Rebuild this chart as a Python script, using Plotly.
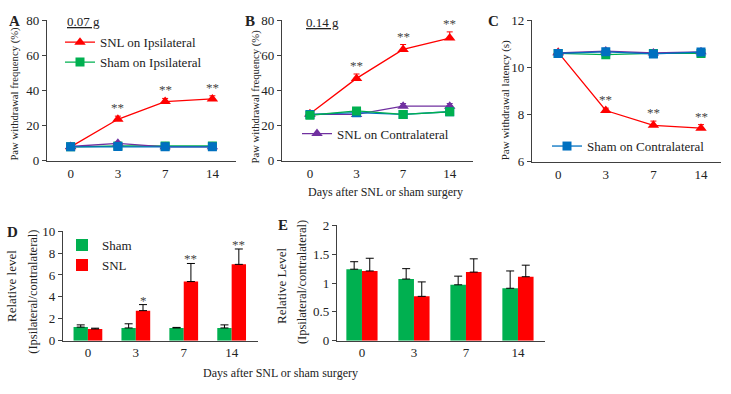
import plotly.graph_objects as go

W, H = 731, 394
FONT = "Liberation Serif"
RED, GREEN, PURPLE, BLUE = "#FF0000", "#00B050", "#7030A0", "#0070C0"
AX = "#404040"

days = ["0", "3", "7", "14"]
xpos = [0, 1, 2, 3]

# Panel A (0.07 g) - withdrawal frequency (%)
A_snl_ipsi = [8, 23.7, 33.8, 35.3]
A_snl_ipsi_err = [1.0, 1.8, 1.8, 1.8]
A_sham_ipsi = [8, 8.5, 8.5, 8.5]
A_sham_ipsi_err = [0.5, 0.5, 1.0, 0.5]
A_snl_contra = [8.2, 10, 8, 8]
A_snl_contra_err = [0.5, 0.8, 0.5, 0.5]
A_sham_contra = [8, 8.2, 8, 8]
A_sham_contra_err = [0.5, 0.5, 0.5, 0.5]
A_stars = ["", "**", "**", "**"]

# Panel B (0.14 g)
B_snl_ipsi = [26.8, 47, 63.5, 70]
B_snl_ipsi_err = [1.0, 2.5, 2.8, 3.5]
B_sham_ipsi = [26, 28.5, 26.5, 28]
B_sham_ipsi_err = [1, 1, 1, 1]
B_snl_contra = [26.5, 26.5, 31.2, 31.2]
B_snl_contra_err = [1, 1, 1.5, 1.5]
B_sham_contra = [26.5, 27.5, 26.5, 28]
B_sham_contra_err = [0.8, 0.8, 0.8, 0.8]
B_stars = ["", "**", "**", "**"]

# Panel C - withdrawal latency (s)
C_snl_ipsi = [10.65, 8.18, 7.55, 7.43]
C_snl_ipsi_err = [0.08, 0.1, 0.18, 0.15]
C_sham_ipsi = [10.6, 10.55, 10.6, 10.6]
C_sham_ipsi_err = [0.05, 0.05, 0.05, 0.1]
C_snl_contra = [10.62, 10.7, 10.62, 10.67]
C_snl_contra_err = [0.05, 0.12, 0.05, 0.05]
C_sham_contra = [10.6, 10.67, 10.58, 10.66]
C_sham_contra_err = [0.05, 0.08, 0.05, 0.05]
C_stars = ["", "**", "**", "**"]

# Panel D - relative level
D_sham = [1.25, 1.17, 1.17, 1.17]
D_sham_err = [0.2, 0.38, 0.05, 0.28]
D_snl = [1.08, 2.75, 5.4, 6.97]
D_snl_err = [0.07, 0.55, 1.65, 1.4]
D_stars = ["", "*", "**", "**"]

# Panel E - relative level
E_sham = [1.24, 1.07, 0.97, 0.91]
E_sham_err = [0.13, 0.18, 0.15, 0.3]
E_snl = [1.21, 0.77, 1.19, 1.11]
E_snl_err = [0.22, 0.25, 0.23, 0.2]


def px(x):
    return x / W


def py(y):
    return 1 - y / H


fig = go.Figure()


def err(arr, color, w=3):
    return dict(type="data", symmetric=False, array=arr, arrayminus=[0] * len(arr),
                color=color, thickness=1, width=w)


def line_trace(y, e, color, symbol, name, ax, legend, show):
    return go.Scatter(
        x=xpos, y=y, name=name, mode="lines+markers",
        line=dict(color=color, width=1.3),
        marker=dict(color=color, symbol=symbol, size=9 if symbol == "square" else 10),
        error_y=err(e, color),
        xaxis="x" + ax, yaxis="y" + ax, legend=legend, showlegend=show,
    )


# A
for y, e, c, s, n, sh in [
    (A_snl_ipsi, A_snl_ipsi_err, RED, "triangle-up", "SNL on Ipsilateral", True),
    (A_sham_ipsi, A_sham_ipsi_err, GREEN, "square", "Sham on Ipsilateral", True),
    (A_snl_contra, A_snl_contra_err, PURPLE, "triangle-up", "SNL on Contralateral", False),
    (A_sham_contra, A_sham_contra_err, BLUE, "square", "Sham on Contralateral", False),
]:
    fig.add_trace(line_trace(y, e, c, s, n, "", "legend", sh))

# B
for y, e, c, s, n, sh in [
    (B_snl_ipsi, B_snl_ipsi_err, RED, "triangle-up", "SNL on Ipsilateral", False),
    (B_snl_contra, B_snl_contra_err, PURPLE, "triangle-up", "SNL on Contralateral", True),
    (B_sham_contra, B_sham_contra_err, BLUE, "square", "Sham on Contralateral", False),
    (B_sham_ipsi, B_sham_ipsi_err, GREEN, "square", "Sham on Ipsilateral", False),
]:
    fig.add_trace(line_trace(y, e, c, s, n, "2", "legend2", sh))

# C
for y, e, c, s, n, sh in [
    (C_snl_ipsi, C_snl_ipsi_err, RED, "triangle-up", "SNL on Ipsilateral", False),
    (C_sham_ipsi, C_sham_ipsi_err, GREEN, "square", "Sham on Ipsilateral", False),
    (C_snl_contra, C_snl_contra_err, PURPLE, "triangle-up", "SNL on Contralateral", False),
    (C_sham_contra, C_sham_contra_err, BLUE, "square", "Sham on Contralateral", True),
]:
    fig.add_trace(line_trace(y, e, c, s, n, "3", "legend3", sh))

# D
fig.add_trace(go.Bar(x=xpos, y=D_sham, name="Sham", marker=dict(color=GREEN, line=dict(width=0)),
                     error_y=err(D_sham_err, "black", 4), xaxis="x4", yaxis="y4",
                     legend="legend4", offsetgroup="sham"))
fig.add_trace(go.Bar(x=xpos, y=D_snl, name="SNL", marker=dict(color=RED, line=dict(width=0)),
                     error_y=err(D_snl_err, "black", 4), xaxis="x4", yaxis="y4",
                     legend="legend4", offsetgroup="snl"))
# E
fig.add_trace(go.Bar(x=xpos, y=E_sham, name="Sham", marker=dict(color=GREEN, line=dict(width=0)),
                     error_y=err(E_sham_err, "black", 4), xaxis="x5", yaxis="y5",
                     showlegend=False, offsetgroup="sham"))
fig.add_trace(go.Bar(x=xpos, y=E_snl, name="SNL", marker=dict(color=RED, line=dict(width=0)),
                     error_y=err(E_snl_err, "black", 4), xaxis="x5", yaxis="y5",
                     showlegend=False, offsetgroup="snl"))

tickfont = dict(family=FONT, size=13, color="#222")


def xaxis(domain, rng, anchor):
    return dict(domain=domain, range=rng, anchor=anchor, tickmode="array", tickvals=xpos,
                ticktext=days, showline=True, linecolor=AX, linewidth=1.2, ticks="",
                showgrid=False, zeroline=False, tickfont=tickfont, fixedrange=True)


def yaxis(domain, rng, dtick, anchor):
    return dict(domain=domain, range=rng, anchor=anchor, dtick=dtick, showline=True,
                linecolor=AX, linewidth=1.2, ticks="outside", ticklen=4, tickcolor=AX,
                showgrid=False, zeroline=False, tickfont=tickfont, fixedrange=True)


legfont = dict(family=FONT, size=13, color="#222")

layout = dict(
    width=W, height=H, autosize=False,
    margin=dict(l=0, r=0, t=0, b=0),
    paper_bgcolor="white", plot_bgcolor="white",
    font=dict(family=FONT, size=13, color="#222"),
    barmode="group", bargap=0.4, bargroupgap=0,
    xaxis=xaxis([px(47), px(236)], [-0.5, 3.5], "y"),
    yaxis=yaxis([py(160), py(14)], [0, 80], 20, "x"),
    xaxis2=xaxis([px(282), px(473)], [-0.6, 3.5], "y2"),
    yaxis2=yaxis([py(160), py(14)], [0, 80], 20, "x2"),
    xaxis3=xaxis([px(532), px(721)], [-0.55, 3.42], "y3"),
    yaxis3=yaxis([py(161), py(14)], [6, 12], 2, "x3"),
    xaxis4=xaxis([px(63), px(258)], [-0.52, 3.55], "y4"),
    yaxis4=yaxis([py(347), py(233)], [0, 10], 2, "x4"),
    xaxis5=xaxis([px(337), px(545)], [-0.48, 3.52], "y5"),
    yaxis5=yaxis([py(347), py(227)], [0, 2], 0.5, "x5"),
    legend=dict(x=px(60), y=py(21), xanchor="left", yanchor="top",
                bgcolor="rgba(0,0,0,0)", font=legfont, tracegroupgap=0, itemwidth=30),
    legend2=dict(x=px(297), y=py(116), xanchor="left", yanchor="top",
                 bgcolor="rgba(0,0,0,0)", font=legfont, itemwidth=30),
    legend3=dict(x=px(547), y=py(129), xanchor="left", yanchor="top",
                 bgcolor="rgba(0,0,0,0)", font=legfont, itemwidth=30),
    legend4=dict(x=px(62), y=py(232), xanchor="left", yanchor="top",
                 bgcolor="rgba(0,0,0,0)", font=legfont, itemwidth=30, traceorder="normal"),
)
fig.update_layout(**layout)

ann = []


def text(x, y, t, size=12, angle=0, bold=False, xanchor="center", yanchor="middle", color="#222"):
    ann.append(dict(x=px(x), y=py(y), xref="paper", yref="paper", text=("<b>%s</b>" % t) if bold else t,
                    showarrow=False, textangle=angle, xanchor=xanchor, yanchor=yanchor,
                    font=dict(family=FONT, size=size, color=color)))


# panel letters
text(14, 15, "A", 15, bold=True)
text(250, 15, "B", 15, bold=True)
text(493, 15, "C", 15, bold=True)
text(12, 234, "D", 15, bold=True)
text(283, 227, "E", 15, bold=True)

# force labels
text(83, 15, "<u>0.07 g</u>", 13)
text(322, 16, "<u>0.14 g</u>", 13)

# y titles
text(15, 90, "Paw withdrawal frequency (%)", 10.7, angle=-90)
text(255, 93, "Paw withdrawal frequency (%)", 10.7, angle=-90)
text(505, 97, "Paw withdrawal latency (s)", 11, angle=-90)
text(12, 290, "Relative level", 13, angle=-90)
text(33, 296, "(Ipsilateral/contralateral)", 12.5, angle=-90)
text(282, 290, "Relative Level", 13, angle=-90)
text(302, 286, "(Ipsilateral/contralateral)", 12.5, angle=-90)

# x titles
text(385, 192, "Days after SNL or sham surgery", 12)
text(280, 381, "Days after SNL or sham surgery", 12)

fig.update_layout(annotations=ann)

# significance stars (data coordinates)
for ax, vals, errs, stars in [("", A_snl_ipsi, A_snl_ipsi_err, A_stars),
                              ("2", B_snl_ipsi, B_snl_ipsi_err, B_stars),
                              ("3", C_snl_ipsi, C_snl_ipsi_err, C_stars)]:
    for xi, v, e, s in zip(xpos, vals, errs, stars):
        if s:
            fig.add_annotation(x=xi, y=v + e, xref="x" + ax, yref="y" + ax, text=s,
                               showarrow=False, yanchor="bottom", yshift=-1,
                               font=dict(family=FONT, size=13, color="#444"))
for xi, v, e, s in zip(xpos, D_snl, D_snl_err, D_stars):
    if s:
        fig.add_annotation(x=xi + 0.15, y=v + e, xref="x4", yref="y4", text=s,
                           showarrow=False, yanchor="bottom", yshift=-5,
                           font=dict(family=FONT, size=13, color="#444"))

fig.write_html("out.html", config={"displayModeBar": False},
               post_script="document.body.style.margin='0';")
